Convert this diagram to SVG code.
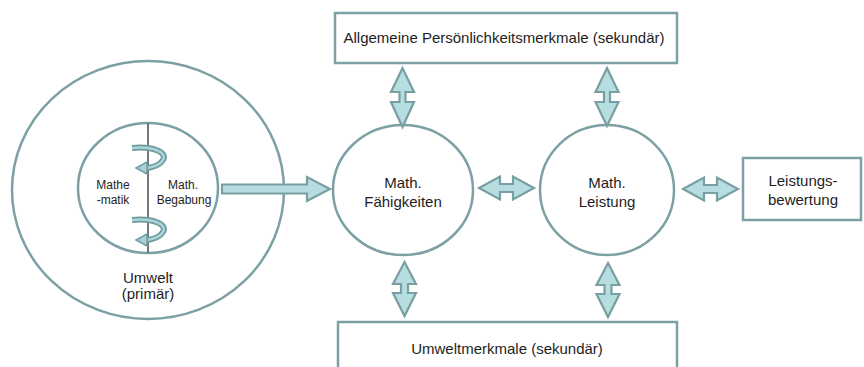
<svg xmlns="http://www.w3.org/2000/svg" width="864" height="367" viewBox="0 0 864 367">
<defs>
<style>
.shape{fill:#fff;stroke:#7ca0a3;stroke-width:2.5}
.arr{fill:#b6dde0;stroke:#7a9fa2;stroke-width:2.2;stroke-linejoin:miter}
.t{font-family:"Liberation Sans",Arial,sans-serif;fill:#1e1e1e;text-anchor:middle}
.t14{font-size:15px}
.t12{font-size:12px}
.band{fill:none;stroke:#6f9ca0;stroke-width:6;stroke-linecap:butt}
.bandin{fill:none;stroke:#a9d3d6;stroke-width:2.5;stroke-linecap:butt}
.head{fill:#a9d3d6;stroke:#6f9ca0;stroke-width:1.5}
</style>
</defs>
<rect width="864" height="367" fill="#fff"/>

<g id="umwelt">
<ellipse class="shape" cx="148" cy="190" rx="136" ry="129"/>
<text class="t t14" x="148" y="283">Umwelt</text>
<text class="t t14" x="148" y="299">(primär)</text>
</g>

<g id="inner">
<ellipse class="shape" cx="148" cy="188" rx="70" ry="65"/>
<line x1="148" y1="123" x2="148" y2="253" stroke="#777" stroke-width="2"/>
<text class="t t12" x="113" y="189">Mathe</text>
<text class="t t12" x="113" y="204">-matik</text>
<text class="t t12" x="183" y="189">Math.</text>
<text class="t t12" x="184" y="204">Begabung</text>
</g>

<g id="curved-arrows">
<path class="band" d="M132,148 C152,146 168,152 163,160 C160,165 154,167 147,168"/>
<path class="bandin" d="M132,148 C152,146 168,152 163,160 C160,165 154,167 147,168"/>
<polygon class="head" points="147,162 147,174 136,168"/>
<path class="band" d="M132,220 C152,218 168,224 163,232 C160,237 154,239 147,240"/>
<path class="bandin" d="M132,220 C152,218 168,224 163,232 C160,237 154,239 147,240"/>
<polygon class="head" points="147,234 147,246 136,240"/>
</g>

<g id="faehigkeiten">
<ellipse class="shape" cx="403" cy="190" rx="70" ry="65"/>
<text class="t t14" x="403" y="188">Math.</text>
<text class="t t14" x="403" y="207">Fähigkeiten</text>
</g>

<g id="leistung">
<ellipse class="shape" cx="607" cy="190" rx="67" ry="65"/>
<text class="t t14" x="607" y="188">Math.</text>
<text class="t t14" x="607" y="207">Leistung</text>
</g>

<g id="persoenlichkeit">
<rect class="shape" x="335" y="13" width="342" height="50"/>
<text class="t t14" x="504" y="43">Allgemeine Persönlichkeitsmerkmale  (sekundär)</text>
</g>

<g id="umweltmerkmale">
<rect class="shape" x="338" y="322" width="339" height="60"/>
<text class="t t14" x="507" y="354">Umweltmerkmale  (sekundär)</text>
</g>

<g id="bewertung">
<rect class="shape" x="743" y="158" width="118" height="62"/>
<text class="t t14" x="803" y="186">Leistungs-</text>
<text class="t t14" x="803" y="205">bewertung</text>
</g>

<g id="connectors">
<polygon class="arr" points="222,184.5 307,184.5 307,177 330,189 307,201 307,193.5 222,193.5"/>
<polygon class="arr" points="479,188 500,176.5 500,184 513,184 513,176.5 534,188 513,199.5 513,192 500,192 500,199.5"/>
<polygon class="arr" points="683,189 704,177.5 704,185 717,185 717,177.5 738,189 717,200.5 717,193 704,193 704,200.5"/>
<polygon class="arr" points="402.5,68 414,92 405.5,92 405.5,102 414,102 402.5,127 391,102 399.5,102 399.5,92 391,92"/>
<polygon class="arr" points="607,68 618.5,92 610,92 610,102 618.5,102 607,126 595.5,102 604,102 604,92 595.5,92"/>
<polygon class="arr" points="404.5,262 416,284 408,284 408,293 416,293 404.5,316 393,293 401,293 401,284 393,284"/>
<polygon class="arr" points="608,263 619.5,285 611.5,285 611.5,294 619.5,294 608,317 596.5,294 604.5,294 604.5,285 596.5,285"/>
</g>
</svg>
